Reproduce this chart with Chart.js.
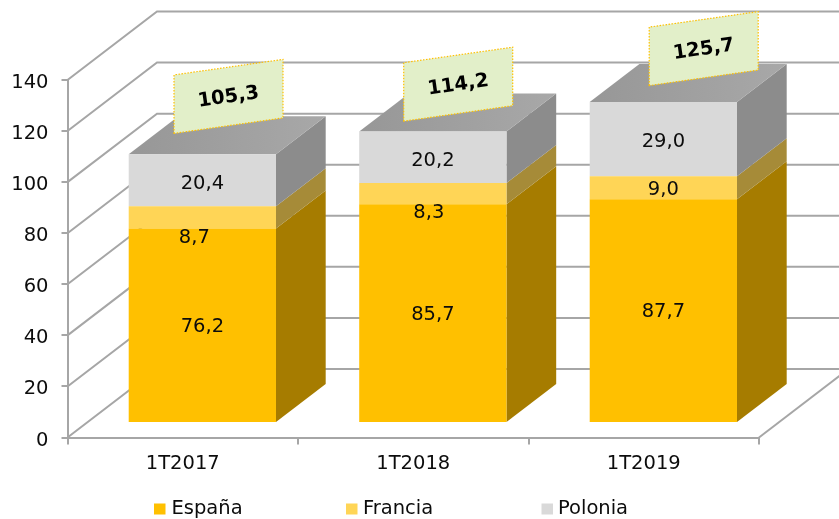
<!DOCTYPE html>
<html>
<head>
<meta charset="utf-8">
<style>html,body{margin:0;padding:0;background:#fff}canvas{display:block}</style>
<script src="https://cdn.jsdelivr.net/npm/chart.js@4/dist/chart.umd.min.js"></script>
</head>
<body>
<canvas id="c" width="839" height="519"></canvas>
<script>
const categories = ['1T2017', '1T2018', '1T2019'];
const espana = [76.2, 85.7, 87.7];
const francia = [8.7, 8.3, 9.0];
const polonia = [20.4, 20.2, 29.0];
const totals = [105.3, 114.2, 125.7];
const seriesNames = ['España', 'Francia', 'Polonia'];
const yMax = 140;
const yStep = 20;

const FONT = '"DejaVu Sans", Verdana, sans-serif';
const TXT = '#0c0c0c';
const GRID = '#a6a6a6';
const fronts = ['#FFC000', '#FFD556', '#D9D9D9'];
const sides = ['#A67C00', '#A68B38', '#8C8C8C'];
const wall = {dx: 89.5, dy: -68.5};
const inset = {dx: 19.6, dy: -14.4};
const depth = {dx: 49.7, dy: -38};
const labelNudge = [
  [[0, 1.5], [-8, 20.5], [0, 3.5]],
  [[0, 1.5], [-4, 19.5], [0, 3.5]],
  [[0, 1.5], [0, 2.5], [0, 2.5]]
];
const boxNudge = [[45.3, -20.8], [44.5, -10.3], [59.5, -16.5]];
const legendX = [154, 346, 541.5];
const legendTextX = [171.5, 363, 558];
const fmt = v => v.toFixed(1).replace('.', ',');

const scene = {
  id: 'scene',
  beforeDatasetsDraw(chart) {
    const {ctx, scales: {x, y}, chartArea: a} = chart;
    ctx.save();
    ctx.strokeStyle = GRID;
    ctx.lineWidth = 2;
    y.ticks.forEach(t => {
      const py = y.getPixelForValue(t.value);
      ctx.beginPath();
      ctx.moveTo(a.left, py);
      ctx.lineTo(a.left + wall.dx, py + wall.dy);
      ctx.lineTo(a.right + wall.dx, py + wall.dy);
      ctx.stroke();
    });
    const p0 = y.getPixelForValue(0);
    ctx.beginPath();
    ctx.moveTo(a.right, p0);
    ctx.lineTo(a.right + wall.dx, p0 + wall.dy);
    ctx.stroke();
    chart.data.datasets.forEach((ds, i) => {
      chart.getDatasetMeta(i).data.forEach(el => {
        const r = el.x + el.width / 2 + inset.dx;
        const top = el.y + inset.dy, bot = el.base + inset.dy;
        ctx.fillStyle = sides[i];
        ctx.beginPath();
        ctx.moveTo(r, top);
        ctx.lineTo(r + depth.dx, top + depth.dy);
        ctx.lineTo(r + depth.dx, bot + depth.dy);
        ctx.lineTo(r, bot);
        ctx.closePath();
        ctx.fill();
      });
    });
    const last = chart.getDatasetMeta(chart.data.datasets.length - 1);
    last.data.forEach(el => {
      const l = el.x - el.width / 2 + inset.dx, r = el.x + el.width / 2 + inset.dx;
      const top = el.y + inset.dy;
      const g = ctx.createLinearGradient(l, 0, r + depth.dx, 0);
      g.addColorStop(0, '#979797');
      g.addColorStop(1, '#A8A8A8');
      ctx.fillStyle = g;
      ctx.beginPath();
      ctx.moveTo(l, top);
      ctx.lineTo(r, top);
      ctx.lineTo(r + depth.dx, top + depth.dy);
      ctx.lineTo(l + depth.dx, top + depth.dy);
      ctx.closePath();
      ctx.fill();
    });
    ctx.restore();
  },
  beforeDatasetDraw(chart) {
    chart.ctx.save();
    chart.ctx.translate(inset.dx, inset.dy);
  },
  afterDatasetDraw(chart) {
    chart.ctx.restore();
  },
  afterDatasetsDraw(chart) {
    const {ctx, scales: {y}} = chart;
    ctx.save();
    ctx.font = '19.5px ' + FONT;
    ctx.fillStyle = TXT;
    ctx.textAlign = 'center';
    ctx.textBaseline = 'middle';
    chart.data.datasets.forEach((ds, i) => {
      chart.getDatasetMeta(i).data.forEach((el, j) => {
        const n = labelNudge[j][i];
        ctx.fillText(fmt(ds.data[j]), el.x + inset.dx + n[0], (el.y + el.base) / 2 + inset.dy + n[1]);
      });
    });
    const last = chart.getDatasetMeta(chart.data.datasets.length - 1);
    const W = 109, H = 58.5, R = 15.5;
    totals.forEach((v, j) => {
      const el = last.data[j];
      const l = el.x - el.width / 2 + inset.dx + boxNudge[j][0];
      const b = y.getPixelForValue(v) + inset.dy + boxNudge[j][1];
      ctx.beginPath();
      ctx.moveTo(l, b);
      ctx.lineTo(l, b - H);
      ctx.lineTo(l + W, b - H - R);
      ctx.lineTo(l + W, b - R);
      ctx.closePath();
      ctx.fillStyle = '#E2EFC9';
      ctx.fill();
      ctx.setLineDash([1.5, 1.5]);
      ctx.lineWidth = 1.2;
      ctx.strokeStyle = '#FFC000';
      ctx.stroke();
      ctx.setLineDash([]);
      ctx.save();
      ctx.translate(l + W / 2, b - H / 2 - R / 2 + 1);
      ctx.rotate(-Math.atan2(R, W));
      ctx.font = 'bold 19.5px ' + FONT;
      ctx.fillStyle = '#000';
      ctx.fillText(fmt(v), 0, 0);
      ctx.restore();
    });
    ctx.textAlign = 'left';
    ctx.font = '19.5px ' + FONT;
    seriesNames.forEach((name, i) => {
      ctx.fillStyle = fronts[i];
      ctx.fillRect(legendX[i], 503.5, 11.5, 11);
      ctx.fillStyle = TXT;
      ctx.fillText(name, legendTextX[i], 509);
    });
    ctx.restore();
  }
};

new Chart(document.getElementById('c'), {
  type: 'bar',
  data: {
    labels: categories,
    datasets: [espana, francia, polonia].map((d, i) => ({
      label: seriesNames[i],
      data: d,
      backgroundColor: fronts[i],
      borderWidth: 0,
      clip: false,
      categoryPercentage: 1,
      barPercentage: 0.639
    }))
  },
  options: {
    responsive: false,
    animation: false,
    events: [],
    layout: {padding: {left: 0, right: 80, top: 80, bottom: 0}},
    plugins: {legend: {display: false}, tooltip: {enabled: false}, title: {display: false}},
    scales: {
      x: {
        stacked: true,
        afterFit(s) { s.height = 81.5; },
        grid: {drawOnChartArea: false, drawTicks: true, tickLength: 7, color: GRID, lineWidth: 2},
        border: {color: GRID, width: 2},
        ticks: {color: TXT, font: {family: FONT, size: 19.5}, padding: 8, maxRotation: 0}
      },
      y: {
        stacked: true,
        min: 0,
        max: yMax,
        afterFit(s) { s.width = 67.5; },
        grid: {drawOnChartArea: false, drawTicks: true, tickLength: 6, color: GRID, lineWidth: 2},
        border: {color: GRID, width: 2},
        ticks: {color: TXT, font: {family: FONT, size: 19.5}, padding: 13, stepSize: yStep, labelOffset: 3}
      }
    }
  },
  plugins: [scene]
});
</script>
</body>
</html>
